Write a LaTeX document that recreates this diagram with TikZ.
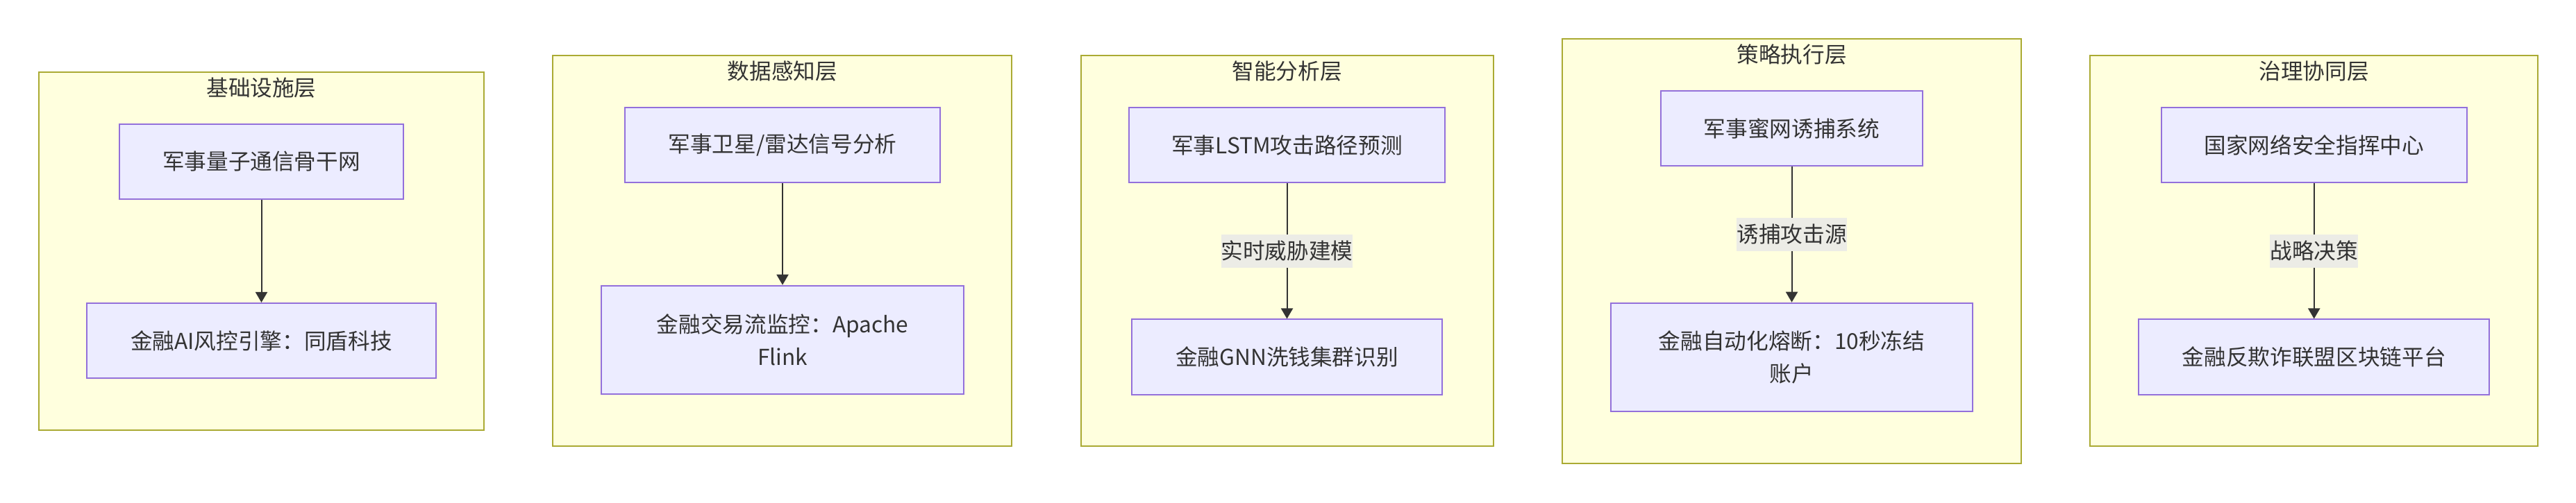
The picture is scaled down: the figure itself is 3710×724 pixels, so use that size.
\documentclass[tikz,border=0pt]{standalone}
\usepackage{fontspec}
\setmainfont{Noto Sans CJK SC}
\usepackage{xcolor}
\usepackage{tikz}
\usetikzlibrary{arrows.meta, positioning}
\definecolor{layerfill}{HTML}{FFFFDE}
\definecolor{layerline}{HTML}{AAAA33}
\definecolor{boxfill}{HTML}{ECECFF}
\definecolor{boxline}{HTML}{9370DB}
\definecolor{ink}{HTML}{333333}
\definecolor{tagfill}{HTML}{ECECE6}

\begin{document}
\begin{tikzpicture}[x=0.01cm, y=-0.01cm, text=ink,
  font=\fontsize{9pt}{13.4pt}\selectfont,
  layer/.style={draw=layerline, fill=layerfill, line width=0.02cm},
  box/.style={draw=boxline, fill=boxfill, line width=0.02cm, inner sep=0pt,
    minimum height=1.08cm, align=center},
  tall/.style={minimum height=1.565cm},
  link/.style={draw=ink, line width=0.02cm, -{Triangle[length=0.15cm, width=0.17cm]}},
  tag/.style={fill=tagfill, inner sep=0pt, minimum height=0.48cm}]
\fill[white] (0,0) rectangle (3710,724);
% infrastructure
\draw[layer] (56,104) rectangle (697,619.5);
\node (t1) at (376.5,127) {基础设施层};
\node[box, minimum width=4.09cm] (m1) at (376.5,233) {军事量子通信骨干网};
\node[box, minimum width=5.025cm] (f1) at (376.5,491) {金融AI风控引擎：同盾科技};
\draw[link] (m1) -- (f1);
% sensing
\draw[layer] (796,79.6) rectangle (1457,643);
\node (t2) at (1127,103) {数据感知层};
\node[box, minimum width=4.53cm] (m2) at (1127,209) {军事卫星/雷达信号分析};
\node[box, tall, minimum width=5.21cm] (f2) at (1127,490) {金融交易流监控：Apache\\Flink};
\draw[link] (m2) -- (f2);
% analysis
\draw[layer] (1556.6,79.6) rectangle (2150.8,643);
\node (t3) at (1853.5,103) {智能分析层};
\node[box, minimum width=4.547cm] (m3) at (1853.5,209) {军事LSTM攻击路径预测};
\node[box, minimum width=4.47cm] (f3) at (1853.5,514.5) {金融GNN洗钱集群识别};
\draw[link] (m3) -- node[tag] {实时威胁建模} (f3);
% execution
\draw[layer] (2250,56) rectangle (2910.7,667.5);
\node (t4) at (2580.5,78.6) {策略执行层};
\node[box, minimum width=3.77cm] (m4) at (2580.5,185) {军事蜜网诱捕系统};
\node[box, tall, minimum width=5.21cm] (f4) at (2580.5,515) {金融自动化熔断：10秒冻结\\账户};
\draw[link] (m4) -- node[tag] {诱捕攻击源} (f4);
% governance
\draw[layer] (3010,79.6) rectangle (3655,643);
\node (t5) at (3332.7,103) {治理协同层};
\node[box, minimum width=4.4cm] (m5) at (3332.7,209) {国家网络安全指挥中心};
\node[box, minimum width=5.044cm] (f5) at (3332.7,514.5) {金融反欺诈联盟区块链平台};
\draw[link] (m5) -- node[tag] {战略决策} (f5);
\end{tikzpicture}
\end{document}
